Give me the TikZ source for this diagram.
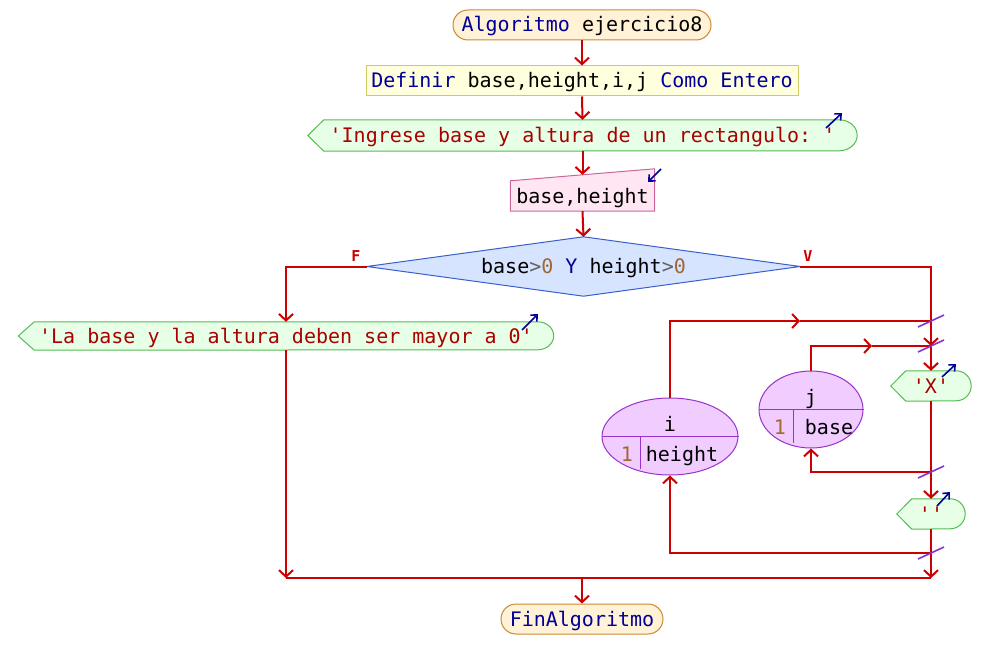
\documentclass[tikz,border=0pt]{standalone}
\usepackage{fontspec}
\setmonofont{DejaVu Sans Mono}
\usetikzlibrary{arrows.meta,shapes.geometric,backgrounds}
\definecolor{flowc}{HTML}{CC0000}
\definecolor{kw}{HTML}{000099}
\definecolor{str}{HTML}{AA0000}
\definecolor{num}{HTML}{A0682E}
\definecolor{op}{HTML}{606060}
\definecolor{purp}{HTML}{8833CC}
\definecolor{startf}{HTML}{FFF2D6}
\definecolor{startb}{HTML}{CC8833}
\definecolor{deff}{HTML}{FFFFDD}
\definecolor{defb}{HTML}{CCCC66}
\definecolor{outf}{HTML}{E6FFE6}
\definecolor{outb}{HTML}{55BB55}
\definecolor{inf}{HTML}{FFE6F2}
\definecolor{inb}{HTML}{CC6699}
\definecolor{dif}{HTML}{D6E4FF}
\definecolor{dib}{HTML}{3A5FCD}
\definecolor{elf}{HTML}{F0CCFF}
\definecolor{elb}{HTML}{9933CC}
\begin{document}
\begin{tikzpicture}[x=1pt,y=-1pt,
  font=\ttfamily\fontsize{20}{24}\selectfont,
  every node/.style={inner sep=0pt, text height=17pt, text depth=3pt},
  flow/.style={draw=flowc, line width=2pt},
  arr/.style={flow, -{Straight Barb[length=6.5pt,width=14pt]}},
  barr/.style={draw=kw, line width=1.6pt, -{Straight Barb[length=5pt,width=9pt]}},
  slash/.style={draw=purp, line width=1.6pt},
  termst/.style={rectangle, rounded corners=15pt, draw=startb, fill=startf, line width=1pt, minimum height=30pt},
  defst/.style={rectangle, draw=defb, fill=deff, line width=1pt, minimum height=30pt},
  plain/.style={rectangle, minimum height=30pt},
  outsh/.style={draw=outb, fill=outf, line width=1pt},
  insh/.style={draw=inb, fill=inf, line width=1pt},
  dish/.style={draw=dib, fill=dif, line width=1pt},
  ellst/.style={ellipse, draw=elb, fill=elf, line width=1pt},
  ellline/.style={draw=elb, line width=1pt},
  brlab/.style={text=flowc, font=\ttfamily\bfseries\fontsize{15}{17}\selectfont, text height=11pt, text depth=0pt}
]
\useasboundingbox (0,0) rectangle (989,669);

% nodes
\node[termst, minimum width=258pt] (start) at (582,25) {\textcolor{kw}{Algoritmo} ejercicio8};
\node[defst, minimum width=432pt] (def) at (582,81) {\textcolor{kw}{Definir} base,height,i,j \textcolor{kw}{Como Entero}};
\node[plain, minimum width=549pt, minimum height=31pt] (o1) at (582.5,135.5) {\textcolor{str}{'Ingrese base y altura de un rectangulo: '}};
\node[plain, minimum width=144pt] (inp) at (582.5,196) {base,height};
\node[plain, minimum width=433pt, minimum height=59pt] (d) at (583.5,266.5) {base\textcolor{op}{>}\textcolor{num}{0} \textcolor{kw}{Y} height\textcolor{op}{>}\textcolor{num}{0}};
\node[plain, minimum width=535pt, minimum height=28pt] (o2) at (286,336) {\textcolor{str}{'La base y la altura deben ser mayor a 0'}};
\node[plain, minimum width=80pt] (X) at (931,386) {\textcolor{str}{'X'}};
\node[plain, minimum width=68pt] (Q) at (931,514) {\textcolor{str}{''}};
\node[termst, minimum width=162pt] (fin) at (582,619) {\textcolor{kw}{FinAlgoritmo}};

\node[ellst, minimum width=136pt, minimum height=77pt] (i) at (670,436.5) {};
\node[ellst, minimum width=104pt, minimum height=77pt] (j) at (811,409.5) {};
\draw[ellline] (i.west) -- (i.east);
\draw[ellline] (640.5,436.5) -- (640.5,469);
\draw[ellline] (j.west) -- (j.east);
\draw[ellline] (793.5,409.5) -- (793.5,443);
\node (ivar) at (670,424) {i};
\node[text=num] (ione) at (627,454.5) {1};
\node (iend) at (682,454.5) {height};
\node (jvar) at (811,397) {j};
\node[text=num] (jone) at (780,427) {1};
\node (jend) at (829,427) {base};

\node[brlab] (lf) at (356,256) {F};
\node[brlab] (lv) at (808,256) {V};

% shapes behind text
\begin{pgfonlayer}{background}
\path[outsh] (o1.west) -- ([xshift=16pt]o1.north west) -- ([xshift=-18pt]o1.north east)
  arc[start angle=90,end angle=-90,x radius=18pt,y radius=15.5pt] -- ([xshift=16pt]o1.south west) -- cycle;
\path[outsh] (o2.west) -- ([xshift=16pt]o2.north west) -- ([xshift=-16pt]o2.north east)
  arc[start angle=90,end angle=-90,x radius=16pt,y radius=14pt] -- ([xshift=16pt]o2.south west) -- cycle;
\path[outsh] (X.west) -- ([xshift=15pt]X.north west) -- ([xshift=-15pt]X.north east)
  arc[start angle=90,end angle=-90,x radius=15pt,y radius=15pt] -- ([xshift=15pt]X.south west) -- cycle;
\path[outsh] (Q.west) -- ([xshift=15pt]Q.north west) -- ([xshift=-15pt]Q.north east)
  arc[start angle=90,end angle=-90,x radius=15pt,y radius=15pt] -- ([xshift=15pt]Q.south west) -- cycle;
\path[insh] (inp.south west) -- (inp.south east) -- ([yshift=12pt]inp.north east) -- (inp.north west) -- cycle;
\path[dish] (d.west) -- (d.north) -- (d.east) -- (d.south) -- cycle;
\end{pgfonlayer}

% junction coordinates
\coordinate (jn1) at (931,321);
\coordinate (jn2) at (931,346);
\coordinate (jn3) at (931,472);
\coordinate (jn4) at (931,553);
\coordinate (am1) at (800,321);
\coordinate (am2) at (872,346);
\coordinate (bl) at (286,578);
\coordinate (br) at (931,578);
\coordinate (bm) at (582,578);

% connectors
\draw[arr] (start.south) -- (def.north);
\draw[arr] (def.south) -- (o1.north);
\draw[arr] (o1.south) -- ([yshift=6pt]inp.north);
\draw[arr] (inp.south) -- (d.north);
\draw[arr] (d.west) -| (o2.north);
\draw[arr] (d.east) -| (jn2);
\draw[arr] (jn2) -- (X.north);
\draw[arr] (X.south) -- (Q.north);
\draw[arr] (Q.south) -- (br);
\draw[arr] (o2.south) -- (bl);
\draw[flow] (bl) -- (br);
\draw[arr] (bm) -- (fin.north);
\draw[arr] (i.north) |- (am1);
\draw[flow] (am1) -- (jn1);
\draw[arr] (j.north) |- (am2);
\draw[flow] (am2) -- (jn2);
\draw[arr] (jn3) -| (j.south);
\draw[arr] (jn4) -| (i.south);

% loop marks
\foreach \yy in {321,346,472,553} \draw[slash] (918,\yy+6) -- (944,\yy-6);

% blue arrows
\draw[barr] (826,128) -- (842,113);
\draw[barr] (661,169) -- (648,182);
\draw[barr] (522,330) -- (538,314);
\draw[barr] (942,377) -- (956,364);
\draw[barr] (937,506) -- (950,492);
\end{tikzpicture}
\end{document}
